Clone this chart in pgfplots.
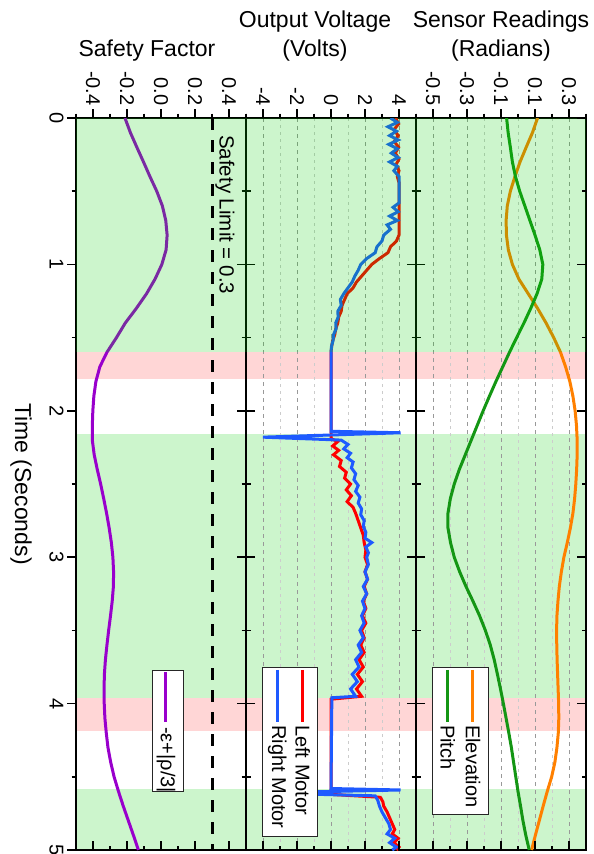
\documentclass[border=0pt]{standalone}
\usepackage{fontspec}
\setmainfont{Liberation Sans}
\usepackage{pgfplots}
\usepackage{pgfplotstable}
\pgfplotsset{compat=1.18}

\definecolor{bandgreen}{RGB}{204,245,204}
\definecolor{bandpink}{RGB}{255,214,214}
\definecolor{ovgreen}{RGB}{0,205,0}
\definecolor{cpurple}{RGB}{153,0,204}
\definecolor{cred}{RGB}{255,0,0}
\definecolor{cblue}{RGB}{30,90,255}
\definecolor{corange}{RGB}{255,128,0}
\definecolor{cgreen}{RGB}{20,150,20}

\tikzset{dline/.style={line width=3pt}}

\pgfplotstableread{
t v
0.0 -0.212
0.1 -0.18
0.2 -0.142
0.3 -0.103
0.4 -0.065
0.5 -0.025
0.6 0.008
0.7 0.028
0.8 0.036
0.9 0.030
1.0 0.005
1.1 -0.035
1.2 -0.085
1.3 -0.145
1.4 -0.21
1.5 -0.262
1.6 -0.318
1.7 -0.36
1.8 -0.383
1.9 -0.395
2.0 -0.401
2.1 -0.404
2.2 -0.404
2.3 -0.393
2.4 -0.375
2.5 -0.355
2.6 -0.337
2.7 -0.32
2.8 -0.305
2.9 -0.292
3.0 -0.283
3.1 -0.279
3.2 -0.28
3.3 -0.287
3.4 -0.297
3.5 -0.308
3.6 -0.318
3.7 -0.327
3.8 -0.333
3.9 -0.335
4.0 -0.334
4.1 -0.330
4.2 -0.322
4.3 -0.312
4.4 -0.296
4.5 -0.276
4.6 -0.25
4.7 -0.222
4.8 -0.192
4.9 -0.162
5.0 -0.133
}\safetytab

\pgfplotstableread{
t v
0.00 3.80
0.04 3.98
0.08 3.70
0.12 3.95
0.16 3.72
0.20 3.98
0.24 3.78
0.28 4.00
0.32 3.82
0.36 4.00
0.40 3.90
0.44 4.00
0.80 4.00
0.84 3.85
0.88 3.50
0.92 3.35
0.96 2.85
1.00 2.40
1.04 2.10
1.08 1.80
1.12 1.50
1.16 1.30
1.20 0.95
1.24 0.80
1.28 0.65
1.32 0.60
1.36 0.45
1.40 0.40
1.44 0.28
1.48 0.22
1.52 0.10
1.56 0.04
1.60 0.00
2.19 0.00
2.21 0.40
2.24 0.10
2.27 0.45
2.30 0.15
2.34 0.60
2.38 0.50
2.42 0.90
2.46 0.80
2.50 1.15
2.54 0.90
2.58 1.20
2.62 0.95
2.66 1.30
2.70 1.45
2.75 1.60
2.80 1.75
2.85 1.90
2.90 1.95
2.95 2.05
3.00 2.00
3.05 2.15
3.10 2.00
3.15 2.15
3.20 1.95
3.25 2.10
3.30 1.90
3.35 2.05
3.40 1.85
3.45 2.05
3.50 1.80
3.55 1.95
3.60 1.75
3.65 1.95
3.70 1.65
3.75 1.90
3.80 1.55
3.85 1.85
3.90 1.50
3.95 1.80
3.97 0.00
4.62 0.00
4.64 2.90
4.67 3.05
4.70 3.10
4.74 3.30
4.78 3.45
4.82 3.60
4.86 3.75
4.89 3.60
4.92 3.95
4.95 3.70
4.98 4.00
5.00 3.85
}\lefttab

\pgfplotstableread{
t v
0.00 3.50
0.03 3.90
0.06 3.35
0.09 3.85
0.12 3.45
0.15 3.95
0.18 3.40
0.21 3.90
0.24 3.55
0.27 3.95
0.30 3.45
0.33 3.90
0.36 3.70
0.40 4.00
0.58 4.00
0.61 3.65
0.64 3.95
0.67 3.45
0.70 3.90
0.73 3.30
0.76 3.50
0.80 3.10
0.84 3.00
0.88 2.70
0.92 2.60
0.96 2.10
1.00 1.75
1.04 1.60
1.08 1.40
1.12 1.25
1.16 1.00
1.20 0.75
1.24 0.55
1.28 0.60
1.32 0.40
1.36 0.42
1.40 0.28
1.44 0.30
1.48 0.15
1.52 0.12
1.56 0.03
1.60 0.00
2.14 0.00
2.15 4.10
2.18 -4.00
2.20 0.60
2.23 1.00
2.26 0.75
2.29 1.15
2.32 0.95
2.35 1.30
2.39 1.20
2.43 1.45
2.47 1.35
2.51 1.60
2.55 1.45
2.59 1.70
2.63 1.60
2.67 1.80
2.71 1.75
2.75 1.95
2.79 1.90
2.83 2.05
2.87 2.00
2.90 2.40
2.93 2.05
2.97 2.20
3.00 2.10
3.05 2.20
3.10 2.00
3.15 2.15
3.20 1.90
3.25 2.10
3.30 1.85
3.35 2.00
3.40 1.80
3.45 1.95
3.50 1.70
3.55 1.90
3.60 1.60
3.65 1.80
3.70 1.45
3.75 1.65
3.80 1.25
3.85 1.55
3.90 1.15
3.95 1.45
3.96 0.05
4.58 0.00
4.59 4.10
4.61 -4.00
4.63 2.60
4.66 2.75
4.70 2.85
4.74 3.00
4.78 3.20
4.82 3.40
4.86 3.50
4.89 3.30
4.92 3.75
4.95 3.45
4.98 3.85
5.00 3.60
}\righttab

\pgfplotstableread{
t v
0.0 0.115
0.1 0.085
0.2 0.048
0.3 0.012
0.4 -0.018
0.5 -0.045
0.6 -0.063
0.7 -0.07
0.8 -0.068
0.9 -0.057
1.0 -0.033
1.1 0.005
1.2 0.06
1.3 0.115
1.4 0.165
1.5 0.21
1.6 0.25
1.7 0.28
1.8 0.305
1.9 0.323
2.0 0.336
2.1 0.344
2.2 0.348
2.3 0.348
2.4 0.345
2.5 0.34
2.6 0.333
2.7 0.323
2.8 0.308
2.9 0.29
3.0 0.27
3.1 0.255
3.2 0.243
3.3 0.235
3.4 0.229
3.5 0.227
3.6 0.228
3.7 0.23
3.8 0.233
3.9 0.236
4.0 0.239
4.1 0.240
4.2 0.237
4.3 0.229
4.4 0.217
4.5 0.198
4.6 0.172
4.7 0.148
4.8 0.125
4.9 0.102
5.0 0.08
}\elevtab

\pgfplotstableread{
t v
0.0 -0.067
0.1 -0.058
0.2 -0.045
0.3 -0.033
0.4 -0.015
0.5 0.01
0.6 0.04
0.7 0.07
0.8 0.1
0.9 0.128
1.0 0.146
1.1 0.14
1.2 0.112
1.3 0.075
1.4 0.035
1.5 -0.008
1.6 -0.05
1.7 -0.09
1.8 -0.13
1.9 -0.168
2.0 -0.205
2.1 -0.24
2.2 -0.275
2.3 -0.31
2.4 -0.345
2.5 -0.375
2.6 -0.398
2.7 -0.412
2.8 -0.412
2.9 -0.397
3.0 -0.375
3.1 -0.343
3.2 -0.306
3.3 -0.265
3.4 -0.226
3.5 -0.192
3.6 -0.163
3.7 -0.14
3.8 -0.121
3.9 -0.103
4.0 -0.086
4.1 -0.07
4.2 -0.054
4.3 -0.039
4.4 -0.026
4.5 -0.013
4.6 0.0
4.7 0.015
4.8 0.029
4.9 0.046
5.0 0.066
}\pitchtab

\pgfplotsset{
  panel/.style={
    scale only axis, width=170pt, height=732pt,
    ymin=0, ymax=5, y dir=reverse,
    ytick={0,1,2,3,4,5}, minor ytick={0.5,1.5,2.5,3.5,4.5},
    yticklabels={},
    ytick pos=both,
    xtick pos=right, xticklabel pos=right,
    tick align=outside,
    major tick length=9pt, minor tick length=4.5pt,
    tick style={black, line width=1.6pt},
    axis line style={line width=2.3pt},
    tick label style={font=\fontsize{20}{24}\selectfont},
    xticklabel style={rotate=-90, anchor=east},
    set layers,
    major grid style={line width=1pt, black!40, dash pattern=on 4pt off 4pt},
    minor grid style={line width=1pt, black!20, dash pattern=on 3pt off 4pt},
  },
  bottomticks/.style={
    scale only axis, width=170pt, height=732pt,
    ymin=0, ymax=5, ytick=\empty,
    xtick pos=left, xticklabels={},
    tick align=inside,
    major tick length=9pt, minor tick length=4.5pt,
    tick style={black, line width=1.6pt},
    axis line style={draw=none},
  },
}

\newcommand{\bands}[2]{%
  \addplot[draw=none, fill=bandpink, on layer=axis background, forget plot] coordinates {(#1,1.6) (#2,1.6) (#2,1.78) (#1,1.78)} -- cycle;
  \addplot[draw=none, fill=bandgreen, on layer=axis background, forget plot] coordinates {(#1,2.16) (#2,2.16) (#2,3.96) (#1,3.96)} -- cycle;
  \addplot[draw=none, fill=bandpink, on layer=axis background, forget plot] coordinates {(#1,3.96) (#2,3.96) (#2,4.19) (#1,4.19)} -- cycle;
  \addplot[draw=none, fill=bandgreen, on layer=axis background, forget plot] coordinates {(#1,4.58) (#2,4.58) (#2,5) (#1,5)} -- cycle;
}
\newcommand{\overband}[2]{%
  \addplot[draw=none, fill=ovgreen, fill opacity=0.2, forget plot] coordinates {(#1,0) (#2,0) (#2,1.6) (#1,1.6)} -- cycle;
}

\begin{document}
\begin{tikzpicture}
\tikzset{lgtext/.style={font=\fontsize{20}{24}\selectfont, rotate=-90, anchor=west, inner sep=0pt}}

% ---------------- Safety Factor ----------------
\begin{axis}[panel, at={(161pt,-484pt)}, anchor=center,
  xmin=-0.5, xmax=0.5,
  xtick={-0.4,-0.2,0,0.2,0.4}, xticklabels={-0.4,-0.2,0.0,0.2,0.4},
  minor xtick={-0.5,-0.3,-0.1,0.1,0.3,0.5},
  yticklabels={0,1,2,3,4,5},
  yticklabel style={rotate=-90, anchor=north},
]
\bands{-0.5}{0.5}
\addplot[cpurple, dline] table[x=v, y=t] {\safetytab};
\overband{-0.5}{0.5}
\addplot[black, line width=3pt, dash pattern=on 12pt off 10pt] coordinates {(0.3,0) (0.3,5)};
\node[font=\fontsize{20.5}{24}\selectfont, rotate=-90, anchor=west, inner sep=0pt] at (axis cs:0.376,0.116) {Safety Limit = 0.3};
\draw[black!85, line width=0.8pt, fill=white] (axis cs:-0.053,3.77) rectangle (axis cs:0.129,4.60);
\draw[cpurple, dline] (axis cs:0.029,3.784) -- (axis cs:0.029,4.126);
\node[lgtext] at (axis cs:0.029,4.16) {-ε+|ρ/3|};
\end{axis}
\begin{axis}[bottomticks, at={(161pt,-484pt)}, anchor=center,
  xmin=-0.5, xmax=0.5, xtick={-0.4,-0.2,0,0.2,0.4}, minor xtick={-0.5,-0.3,-0.1,0.1,0.3,0.5}]
\end{axis}

% ---------------- Output Voltage ----------------
\begin{axis}[panel, at={(331pt,-484pt)}, anchor=center,
  xmin=-5, xmax=5,
  xtick={-4,-2,0,2,4}, xticklabels={-4,-2,0,2,4},
  minor xtick={-5,-3,-1,1,3,5},
  xmajorgrids, xminorgrids,
]
\bands{-5}{5}
\addplot[cred, dline] table[x=v, y=t] {\lefttab};
\addplot[cblue, dline] table[x=v, y=t] {\righttab};
\overband{-5}{5}
\draw[black!85, line width=0.8pt, fill=white] (axis cs:-4.04,3.752) rectangle (axis cs:-0.81,4.904);
\draw[cred, dline] (axis cs:-1.66,3.77) -- (axis cs:-1.66,4.126);
\node[lgtext] at (axis cs:-1.66,4.146) {Left Motor};
\draw[cblue, dline] (axis cs:-3.16,3.77) -- (axis cs:-3.16,4.126);
\node[lgtext] at (axis cs:-3.16,4.146) {Right Motor};
\end{axis}
\begin{axis}[bottomticks, at={(331pt,-484pt)}, anchor=center,
  xmin=-5, xmax=5, xtick={-4,-2,0,2,4}, minor xtick={-5,-3,-1,1,3,5}]
\end{axis}

% ---------------- Sensor Readings ----------------
\begin{axis}[panel, at={(501pt,-484pt)}, anchor=center,
  xmin=-0.6, xmax=0.4,
  xtick={-0.5,-0.3,-0.1,0.1,0.3}, xticklabels={-0.5,-0.3,-0.1,0.1,0.3},
  minor xtick={-0.6,-0.4,-0.2,0,0.2,0.4},
  xmajorgrids, xminorgrids,
  ytick pos=left,
]
\bands{-0.6}{0.4}
\addplot[corange, dline] table[x=v, y=t] {\elevtab};
\addplot[cgreen, dline] table[x=v, y=t] {\pitchtab};
\overband{-0.6}{0.4}
\draw[black!85, line width=0.8pt, fill=white] (axis cs:-0.502,3.752) rectangle (axis cs:-0.175,4.754);
\draw[corange, dline] (axis cs:-0.265,3.77) -- (axis cs:-0.265,4.126);
\node[lgtext] at (axis cs:-0.265,4.146) {Elevation};
\draw[cgreen, dline] (axis cs:-0.4135,3.77) -- (axis cs:-0.4135,4.126);
\node[lgtext] at (axis cs:-0.4135,4.146) {Pitch};
\end{axis}
\begin{axis}[bottomticks, at={(501pt,-484pt)}, anchor=center,
  xmin=-0.6, xmax=0.4, xtick={-0.5,-0.3,-0.1,0.1,0.3}, minor xtick={-0.6,-0.4,-0.2,0,0.2,0.4},
  y dir=reverse, ytick={0,1,2,3,4,5}, minor ytick={0.5,1.5,2.5,3.5,4.5}, yticklabels={}, ytick pos=right]
\end{axis}

% ---------------- Titles ----------------
\begin{scope}[every node/.style={font=\fontsize{23}{27}\selectfont, anchor=base, inner sep=0pt}]
\node at (147pt,-56.5pt) {Safety Factor};
\node at (315pt,-27pt) {Output Voltage};
\node at (315pt,-56.5pt) {(Volts)};
\node at (501pt,-27pt) {Sensor Readings};
\node at (501pt,-56.5pt) {(Radians)};
\end{scope}
\node[font=\fontsize{23}{27}\selectfont, rotate=-90, inner sep=0pt] at (21pt,-484pt) {Time (Seconds)};

\pgfresetboundingbox
\path (0,0) rectangle (594pt,-854pt);
\end{tikzpicture}
\end{document}
